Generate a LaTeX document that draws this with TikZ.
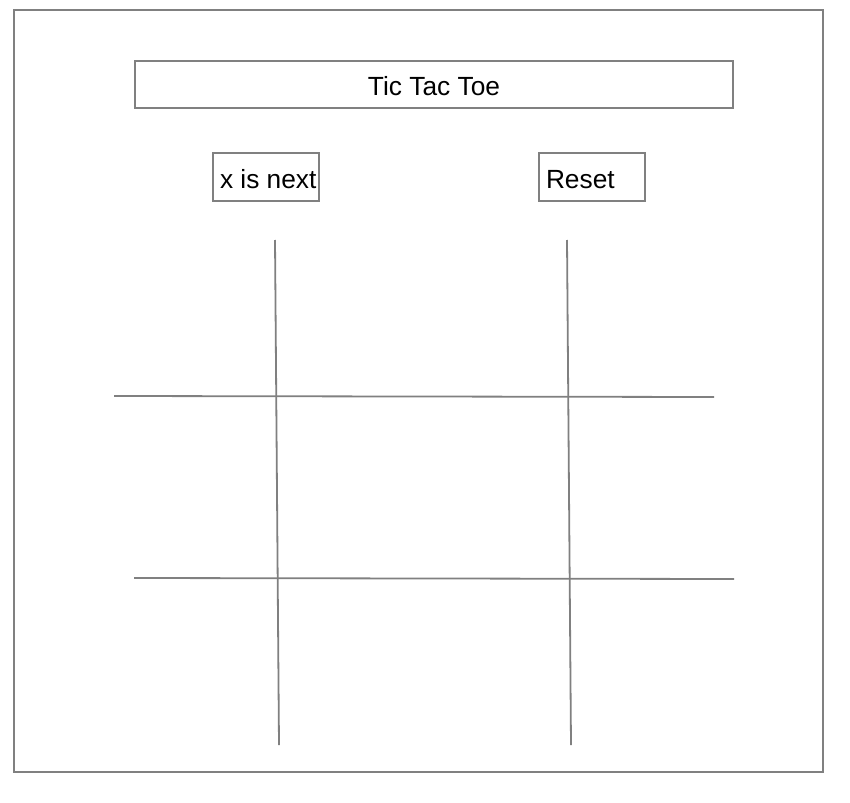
\documentclass[tikz,border=0pt]{standalone}
\usepackage{fontspec}
\setmainfont{Liberation Sans}
\begin{document}
\begin{tikzpicture}[x=1pt,y=-1pt,
  frame/.style={draw=gray, line width=2pt},
  gridline/.style={draw=gray, line width=1.8pt},
  panel/.style={draw=gray, line width=2pt, inner sep=0pt, text height=23pt, text depth=0pt,
    font=\fontsize{26.3}{30}\selectfont},
  button/.style={panel, minimum height=48pt, inner xsep=7pt}
]
\useasboundingbox (0,0) rectangle (850,802);
% outer page frame
\draw[frame] (14,10) rectangle (823,772);
% title bar
\node[panel, minimum width=598pt, minimum height=47pt] (title) at (434,84.5) {Tic Tac Toe};
% status and reset buttons, text set flush left
\node[button] (status) at (266,177) {\makebox[92pt][l]{x is next}};
\node[button] (reset) at (592,177) {\makebox[92pt][l]{Reset}};
% board grid end points
\coordinate (v1top) at (275,240);
\coordinate (v1bot) at (279,745);
\coordinate (v2top) at (567,240);
\coordinate (v2bot) at (571,745);
\coordinate (h1left) at (114,396);
\coordinate (h1right) at (714,397);
\coordinate (h2left) at (134,578);
\coordinate (h2right) at (734,579);
\draw[gridline] (v1top) -- (v1bot);
\draw[gridline] (v2top) -- (v2bot);
\draw[gridline] (h1left) -- (h1right);
\draw[gridline] (h2left) -- (h2right);
\end{tikzpicture}
\end{document}
